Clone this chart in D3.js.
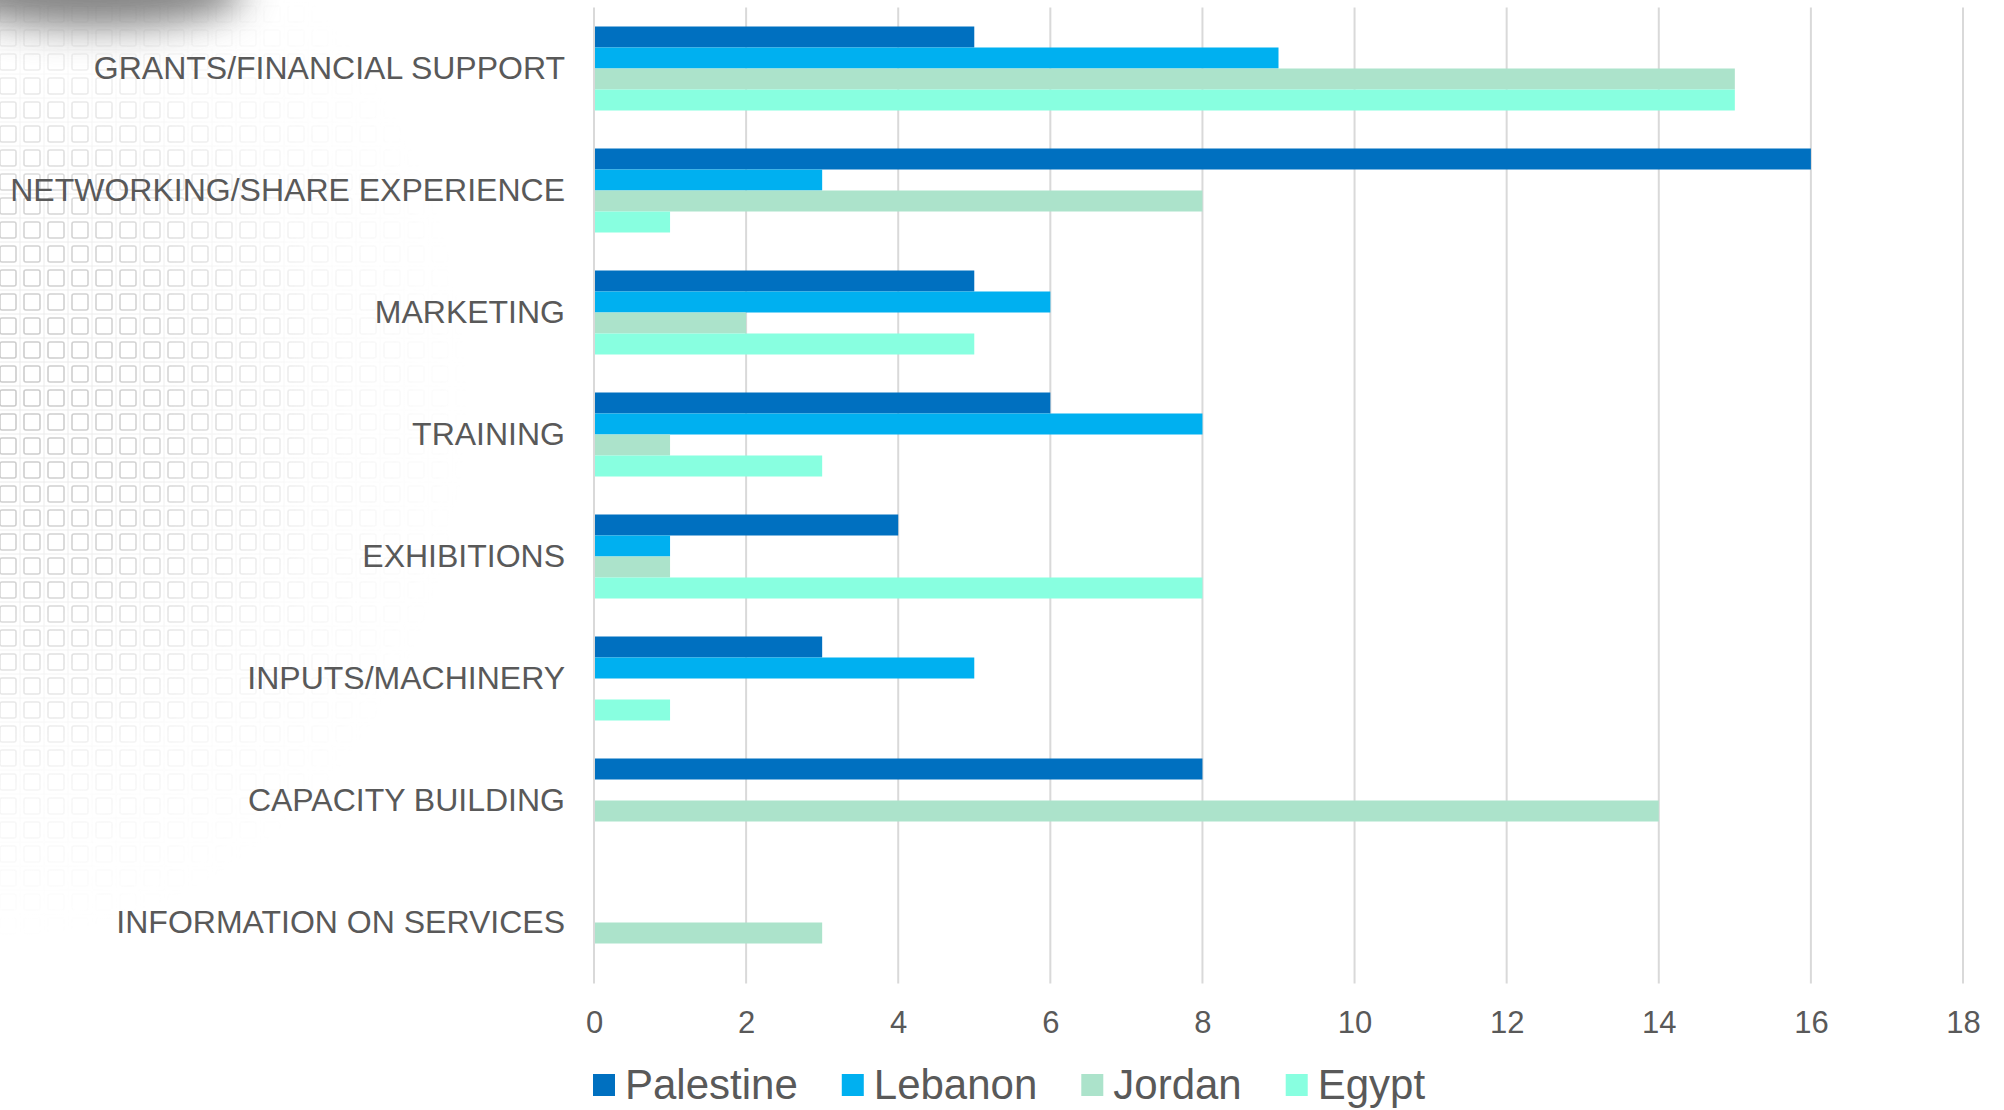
<!DOCTYPE html>
<html>
<head>
<meta charset="utf-8">
<script src="https://cdn.jsdelivr.net/npm/d3@7"></script>
<style>
  html, body { margin: 0; padding: 0; background: #fff; }
  svg { display: block; font-family: "Liberation Sans", Arial, sans-serif; }
</style>
</head>
<body>
<svg id="chart" width="2004" height="1110"></svg>
<script>
const categories = [
  "GRANTS/FINANCIAL SUPPORT",
  "NETWORKING/SHARE EXPERIENCE",
  "MARKETING",
  "TRAINING",
  "EXHIBITIONS",
  "INPUTS/MACHINERY",
  "CAPACITY BUILDING",
  "INFORMATION ON SERVICES"
];
const seriesNames = ["Palestine", "Lebanon", "Jordan", "Egypt"];
const palestine = [5, 16, 5, 6, 4, 3, 8, 0];
const lebanon   = [9, 3, 6, 8, 1, 5, 0, 0];
const jordan    = [15, 8, 2, 1, 1, 0, 14, 3];
const egypt     = [15, 1, 5, 3, 8, 1, 0, 0];
const seriesValues = [palestine, lebanon, jordan, egypt];
const seriesColors = ["#0070c0", "#00b0f0", "#ace3cb", "#88ffe0"];
const xTicks = [0, 2, 4, 6, 8, 10, 12, 14, 16, 18];

const svg = d3.select("#chart");
const textColor = "#595959";

// ---------- background texture (left side) ----------
const defs = svg.append("defs");
const pat = defs.append("pattern").attr("id", "cells")
  .attr("patternUnits", "userSpaceOnUse").attr("width", 24).attr("height", 24)
  .attr("x", -4).attr("y", 2);
pat.append("rect").attr("x", 0).attr("y", 0).attr("width", 24).attr("height", 24)
  .attr("fill", "none").attr("stroke", "#e2e2e2").attr("stroke-width", 1);
pat.append("rect").attr("x", 4).attr("y", 4).attr("width", 16).attr("height", 16).attr("rx", 2)
  .attr("fill", "none").attr("stroke", "#b8b8b8").attr("stroke-width", 1.6);

const rg = defs.append("radialGradient").attr("id", "fadeGrad")
  .attr("gradientUnits", "userSpaceOnUse")
  .attr("cx", 0).attr("cy", 400).attr("r", 470)
  .attr("gradientTransform", "translate(0,400) scale(1,1.15) translate(0,-400)");
rg.append("stop").attr("offset", "0%").attr("stop-color", "#fff").attr("stop-opacity", 1);
rg.append("stop").attr("offset", "35%").attr("stop-color", "#fff").attr("stop-opacity", 0.8);
rg.append("stop").attr("offset", "70%").attr("stop-color", "#fff").attr("stop-opacity", 0.2);
rg.append("stop").attr("offset", "100%").attr("stop-color", "#fff").attr("stop-opacity", 0);
const mask = defs.append("mask").attr("id", "fadeMask");
mask.append("rect").attr("width", 700).attr("height", 1000).attr("fill", "url(#fadeGrad)");

svg.append("rect").attr("x", 0).attr("y", 0).attr("width", 700).attr("height", 1000)
  .attr("fill", "url(#cells)").attr("mask", "url(#fadeMask)").attr("opacity", 0.75);

const blur = defs.append("filter").attr("id", "blur")
  .attr("x", "-50%").attr("y", "-100%").attr("width", "200%").attr("height", "300%");
blur.append("feGaussianBlur").attr("stdDeviation", 18);
svg.append("ellipse").attr("cx", 95).attr("cy", -8).attr("rx", 150).attr("ry", 36)
  .attr("fill", "#707070").attr("filter", "url(#blur)").attr("opacity", 0.85);

// ---------- scales ----------
const plotTop = 7.5, plotBottom = 983.5;
const x = d3.scaleLinear().domain([0, 18]).range([594, 1963]);
const y = d3.scaleBand().domain(categories).range([plotTop, plotBottom]).paddingInner(0).paddingOuter(0);
const inner = d3.scaleBand().domain(seriesNames).range([19, y.bandwidth() - 19]);

// gridlines
svg.append("g").selectAll("line").data(xTicks).join("line")
  .attr("x1", d => x(d)).attr("x2", d => x(d))
  .attr("y1", plotTop).attr("y2", plotBottom)
  .attr("stroke", "#d9d9d9").attr("stroke-width", 2);

// bars
const rows = [];
categories.forEach((c, i) => {
  seriesNames.forEach((s, j) => rows.push({cat: c, series: s, value: seriesValues[j][i], color: seriesColors[j]}));
});
svg.append("g").selectAll("rect").data(rows).join("rect")
  .attr("x", x(0) + 1)
  .attr("y", d => y(d.cat) + inner(d.series))
  .attr("width", d => Math.max(0, x(d.value) - x(0) - 1))
  .attr("height", inner.bandwidth())
  .attr("fill", d => d.color);

// x axis labels
const xAxis = svg.append("g").attr("transform", `translate(0,${plotBottom})`)
  .call(d3.axisBottom(x).tickValues(xTicks).tickSize(0).tickPadding(27).tickFormat(d3.format("d")));
xAxis.select(".domain").remove();
xAxis.selectAll("text").attr("fill", textColor).style("font-size", "31px")
  .style("font-family", '"Liberation Sans", Arial, sans-serif');

// y axis labels
const yAxis = svg.append("g").attr("transform", `translate(${x(0)},0)`)
  .call(d3.axisLeft(y).tickSize(0).tickPadding(29));
yAxis.select(".domain").remove();
yAxis.selectAll("text").attr("fill", textColor).style("font-size", "32px")
  .style("font-family", '"Liberation Sans", Arial, sans-serif');

// legend
const legend = svg.append("g").attr("transform", "translate(593,1085)");
let lx = 0;
seriesNames.forEach((s, i) => {
  const g = legend.append("g").attr("transform", `translate(${lx},0)`);
  g.append("rect").attr("x", 0).attr("y", -11).attr("width", 22).attr("height", 22).attr("fill", seriesColors[i]);
  const t = g.append("text").attr("x", 32).attr("y", 14).attr("fill", textColor)
    .style("font-size", "42px").text(s);
  lx += 32 + t.node().getComputedTextLength() + 44;
});
</script>
</body>
</html>
